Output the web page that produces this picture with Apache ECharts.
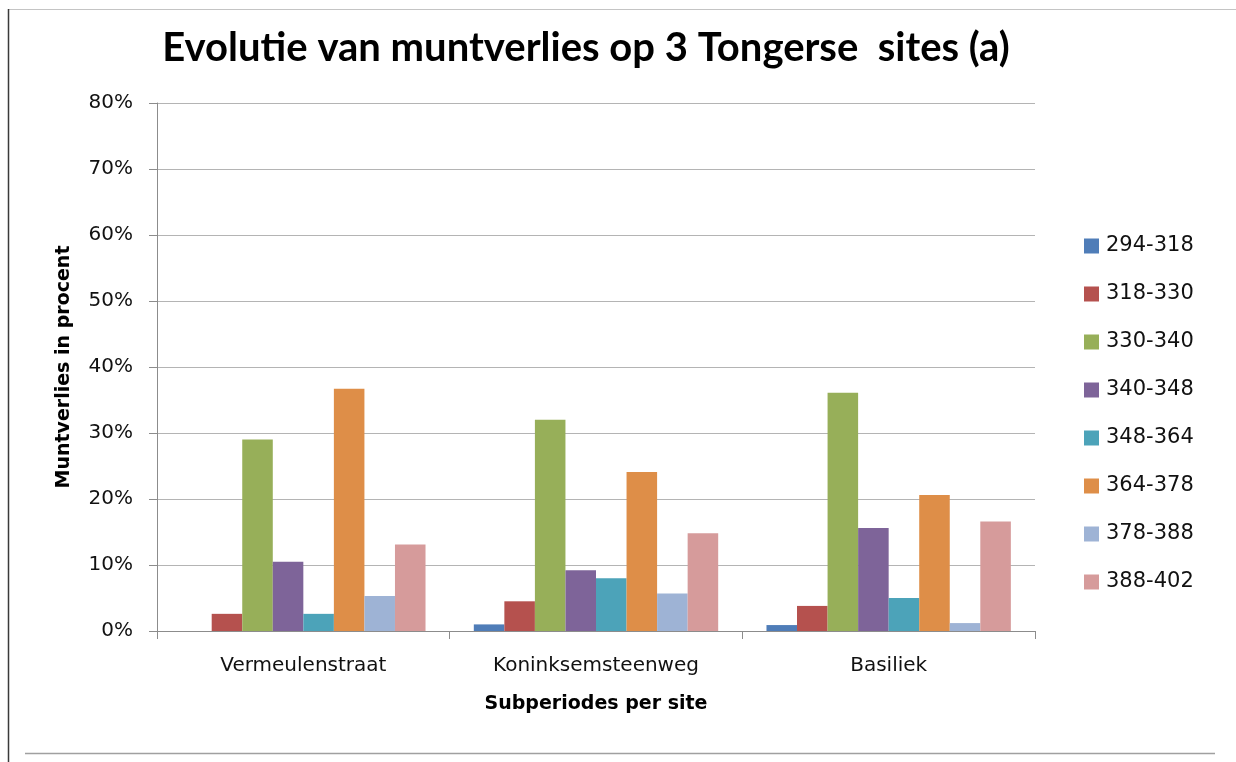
<!DOCTYPE html>
<html>
<head>
<meta charset="utf-8">
<script src="https://cdn.jsdelivr.net/npm/echarts@6/dist/echarts.min.js"></script>
<style>
  html, body { margin: 0; padding: 0; background: #ffffff; }
  #chart { width: 1236px; height: 762px; }
</style>
</head>
<body>
<div id="chart"></div>
<script>
// Sites (categories on the x axis)
const sites = ['Vermeulenstraat', 'Koninksemsteenweg', 'Basiliek'];

// Sub-periods (one bar series each)
const periods = ['294-318', '318-330', '330-340', '340-348', '348-364', '364-378', '378-388', '388-402'];

// Share of coin loss per sub-period, per site (fractions)
const p294_318 = [0.000, 0.010, 0.009];
const p318_330 = [0.026, 0.045, 0.038];
const p330_340 = [0.290, 0.320, 0.361];
const p340_348 = [0.105, 0.092, 0.156];
const p348_364 = [0.026, 0.080, 0.050];
const p364_378 = [0.367, 0.241, 0.206];
const p378_388 = [0.053, 0.057, 0.012];
const p388_402 = [0.131, 0.148, 0.166];

const seriesValues = [p294_318, p318_330, p330_340, p340_348, p348_364, p364_378, p378_388, p388_402];
const colors = ['#4F7DB8', '#B5514E', '#97AF59', '#7E6499', '#4CA3B9', '#DE8E48', '#9EB3D5', '#D69B9B'];

const FONT = 'DejaVu Sans';

const chart = echarts.init(document.getElementById('chart'), null, { renderer: 'canvas' });

chart.setOption({
  backgroundColor: '#ffffff',
  animation: false,
  color: colors,
  title: {
    text: 'Evolutie van muntverlies op 3 Tongerse  sites (a)',
    left: 581,
    textAlign: 'center',
    top: 23,
    textStyle: {
      fontFamily: 'Lato',
      fontWeight: 'bold',
      fontSize: 40,
      color: '#000000'
    }
  },
  legend: {
    orient: 'vertical',
    left: 1079,
    top: 230,
    itemWidth: 15,
    itemHeight: 15,
    itemGap: 26,
    icon: 'rect',
    data: periods,
    textStyle: {
      fontFamily: FONT,
      fontSize: 21,
      color: '#111111',
      lineHeight: 22,
      padding: [0, 0, 0, 2]
    }
  },
  grid: {
    left: 157,
    right: 201,
    top: 103,
    bottom: 131,
    containLabel: false
  },
  xAxis: {
    type: 'category',
    data: sites,
    name: 'Subperiodes per site',
    nameLocation: 'middle',
    nameGap: 64,
    nameTextStyle: {
      fontFamily: FONT,
      fontWeight: 'bold',
      fontSize: 19,
      color: '#000000'
    },
    axisLine: { show: true, lineStyle: { color: '#8c8c8c', width: 1 } },
    axisTick: { show: true, length: 8, alignWithLabel: false, lineStyle: { color: '#8c8c8c' } },
    axisLabel: {
      fontFamily: FONT,
      fontSize: 20,
      color: '#111111',
      margin: 25
    }
  },
  yAxis: {
    type: 'value',
    min: 0,
    max: 0.8,
    interval: 0.1,
    name: 'Muntverlies in procent',
    nameLocation: 'middle',
    nameGap: 83,
    nameRotate: 90,
    nameTextStyle: {
      fontFamily: FONT,
      fontWeight: 'bold',
      fontSize: 19,
      color: '#000000'
    },
    axisLine: { show: true, lineStyle: { color: '#8c8c8c', width: 1 } },
    axisTick: { show: true, length: 8, lineStyle: { color: '#8c8c8c' } },
    axisLabel: {
      fontFamily: FONT,
      fontSize: 20,
      color: '#111111',
      margin: 24,
      formatter: v => Math.round(v * 100) + '%'
    },
    splitLine: { show: true, lineStyle: { color: '#b4b4b4', width: 1 } }
  },
  series: periods.map((p, i) => ({
    name: p,
    type: 'bar',
    data: seriesValues[i],
    barGap: '0%',
    barCategoryGap: '16.5%',
    itemStyle: { color: colors[i] }
  })),
  graphic: [
    // outer frame lines
    { type: 'line', shape: { x1: 8, y1: 9.5, x2: 1236, y2: 9.5 }, style: { stroke: '#c4c4c4', lineWidth: 1 } },
    { type: 'line', shape: { x1: 8.5, y1: 9, x2: 8.5, y2: 762 }, style: { stroke: '#3a3a3a', lineWidth: 1.5 } },
    { type: 'line', shape: { x1: 25, y1: 753.5, x2: 1215, y2: 753.5 }, style: { stroke: '#a0a0a0', lineWidth: 1.5 } }
  ]
});
</script>
</body>
</html>
